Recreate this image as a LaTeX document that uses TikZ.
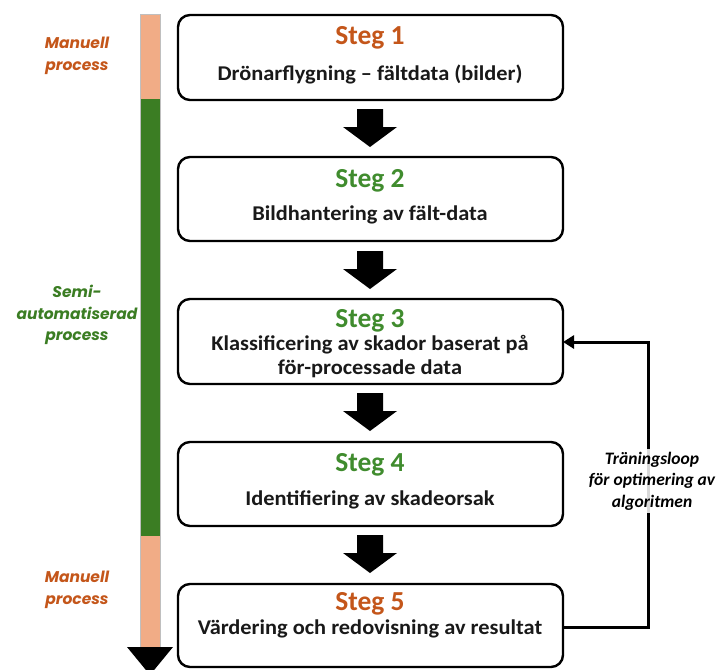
\documentclass[tikz,border=0pt]{standalone}
\usepackage{fontspec}
\setmainfont{Carlito}
\newfontfamily\bodyfont{Carlito}[FakeStretch=1.065]
\newfontfamily\sidefont{Poppins}
\usetikzlibrary{arrows.meta}
\definecolor{peach}{RGB}{241,172,134}
\definecolor{bargreen}{RGB}{59,125,35}
\definecolor{titlegreen}{RGB}{64,140,46}
\definecolor{titleorange}{RGB}{196,86,26}
\tikzset{
  stepbox/.style={draw=black, line width=2.4pt, rounded corners=12pt, fill=white},
  steptitle/.style={font=\bfseries\fontsize{27.5}{30}\selectfont, inner sep=1pt},
  steptext/.style={font=\bodyfont\bfseries\fontsize{21}{24}\selectfont, align=center, text=black!90, inner sep=1pt},
  sidelabel/.style={font=\sidefont\bfseries\itshape\fontsize{15.5}{21.5}\selectfont, align=center},
  blockarrow/.style={fill=black, draw=none},
  loopline/.style={line width=3pt, -{Triangle[length=11pt,width=13pt]}},
}
\begin{document}
\begin{tikzpicture}[x=1pt,y=-1pt]
\useasboundingbox (0,0) rectangle (725,669);

% process bar
\fill[peach] (140,14) rectangle (160,99);
\fill[bargreen] (140,99) rectangle (160,536);
\fill[peach] (140,536) rectangle (160,647);
\draw[black!25, line width=0.8pt] (140,647) -- (140,14) -- (160,14) -- (160,647);
\fill[black] (127,647) -- (173,647) -- (150,675) -- cycle;

% side labels
\node[sidelabel, text=titleorange] (lab1) at (77,56) {Manuell\\process};
\node[sidelabel, text=bargreen] (lab2) at (77,315) {Semi-\\automatiserad\\process};
\node[sidelabel, text=titleorange] (lab3) at (77,590) {Manuell\\process};

% step boxes
\path[stepbox] (178,15) rectangle (563,100);
\path[stepbox] (178,157) rectangle (563,241);
\path[stepbox] (178,299) rectangle (563,384);
\path[stepbox] (178,442) rectangle (563,526);
\path[stepbox] (178,584) rectangle (563,667);
\coordinate (b3r) at (563,342);
\coordinate (b5r) at (563,627);

\node[steptitle, text=titleorange] (t1) at (370,38) {Steg 1};
\node[steptext] (d1) at (370,74) {Drönarflygning – fältdata (bilder)};
\node[steptitle, text=titlegreen] (t2) at (370,181) {Steg 2};
\node[steptext] (d2) at (370,215) {Bildhantering av fält-data};
\node[steptitle, text=titlegreen] (t3) at (370,321) {Steg 3};
\node[steptext] (d3) at (370,357) {Klassificering av skador baserat på\\för-processade data};
\node[steptitle, text=titlegreen] (t4) at (370,465) {Steg 4};
\node[steptext] (d4) at (370,500) {Identifiering av skadeorsak};
\node[steptitle, text=titleorange] (t5) at (370,604) {Steg 5};
\node[steptext] (d5) at (370,629) {Värdering och redovisning av resultat};

% block arrows between steps
\foreach \y in {109,251,393,535}{
  \fill[blockarrow] (357,\y) -- (383,\y) -- (383,\y+18) -- (397,\y+18)
     -- (370,\y+38) -- (343,\y+18) -- (357,\y+18) -- cycle;
}

% training loop
\draw[loopline] (b5r) -- (648,627) -- (648,342) -- (b3r);
\node[font=\bfseries\itshape\fontsize{17.5}{21.5}\selectfont, align=center,
      fill=white, fill opacity=0.85, text opacity=1, inner sep=3pt] (loop) at (652,481)
  {Träningsloop\\för optimering av\\algoritmen};
\end{tikzpicture}
\end{document}
